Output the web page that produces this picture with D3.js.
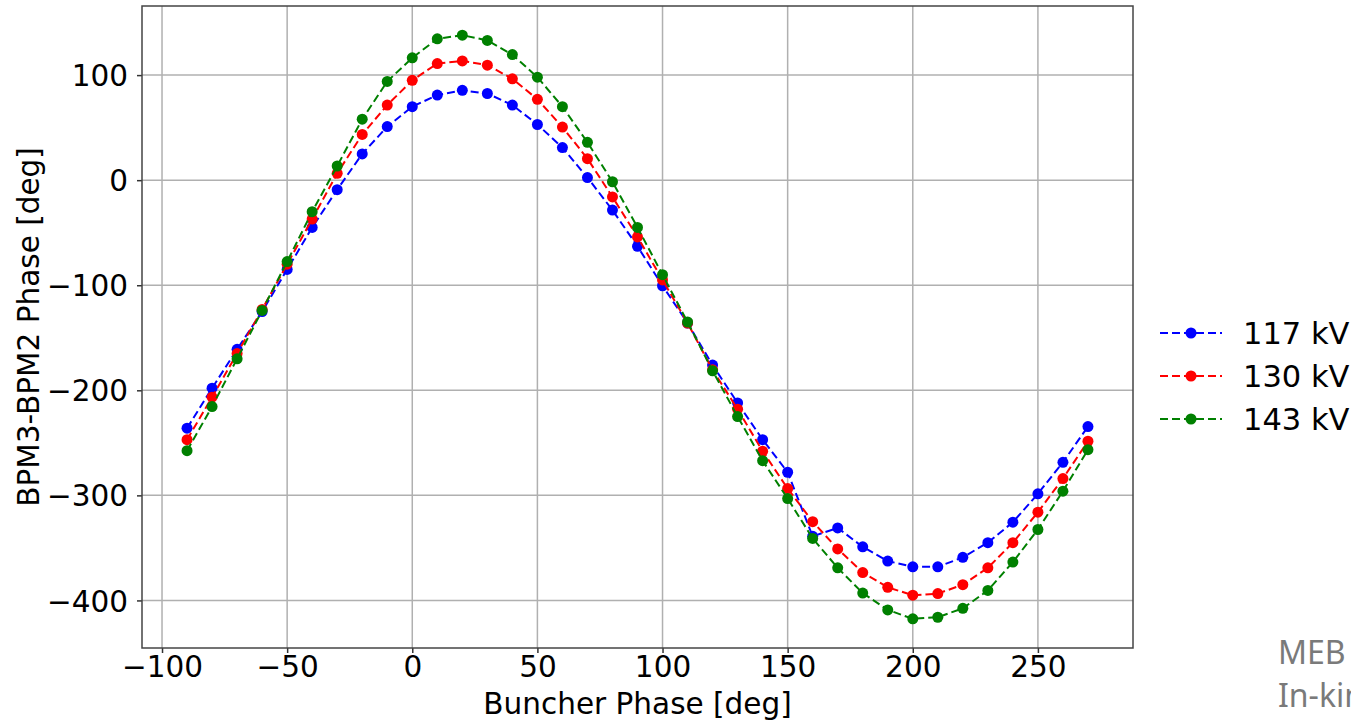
<!DOCTYPE html>
<html lang="en">
<head>
  <meta charset="utf-8" />
  <title>BPM3-BPM2 phase vs buncher phase</title>
  <style type="text/css">
    body { margin: 0; background: #fff; overflow: hidden; }
    #graphic text { font-family: "DejaVu Sans", sans-serif; fill: #000; }
    .grid line { stroke: #b0b0b0; stroke-width: 1.5; }
    .axis path { display: none; }
    .axis line { stroke: #333; stroke-width: 1.5; }
    .note { font-family: "Noto Sans", "Open Sans", sans-serif !important; fill: #7a7a7a !important; }
  </style>
</head>
<body>
  <div id="graphic"></div>

  <script src="https://cdnjs.cloudflare.com/ajax/libs/d3/7.8.5/d3.min.js"></script>
  <script>
    // buncher phase [deg]
    var phase = [-90, -80, -70, -60, -50, -40, -30, -20, -10, 0, 10, 20, 30, 40, 50, 60, 70, 80, 90,
                 100, 110, 120, 130, 140, 150, 160, 170, 180, 190, 200, 210, 220, 230, 240, 250, 260, 270];

    // BPM3-BPM2 phase [deg]
    var kv117 = [-236, -198, -161, -125, -85, -45, -9, 25, 51, 70, 81, 85.5, 82.5, 71.5, 53, 31, 2.5, -28.5, -63,
                 -100.5, -136, -176, -212, -247, -278, -339, -331, -349, -362.5, -368, -368, -359, -345, -325.5, -298.5, -268.5, -234.5];
    var kv130 = [-247, -206.5, -165, -123, -80, -37, 6.5, 43.5, 71.5, 95, 111, 113.5, 109.5, 96.5, 77, 50.5, 20.5, -16, -54,
                 -95, -136, -180.5, -218, -258, -293.5, -325, -351, -373.5, -387.5, -395, -393.5, -385, -369, -345, -316, -284, -248.5];
    var kv143 = [-257.5, -215.5, -170, -124, -77.5, -30, 13.5, 58, 94, 116.5, 134.5, 138, 133, 119.5, 98, 70, 36, -1.5, -45,
                 -90, -135, -181.5, -225, -267, -303, -341, -369, -393, -409, -417.5, -416, -407.5, -390.5, -363.5, -332.5, -296, -256.5];

    var seriesNames = ["117 kV", "130 kV", "143 kV"];
    var seriesColours = ["#0000ff", "#ff0000", "#008000"];

    var xTicks = [-100, -50, 0, 50, 100, 150, 200, 250];
    var yTicks = [-400, -300, -200, -100, 0, 100];

    var series = [kv117, kv130, kv143].map(function(vals, i) {
      return {
        name: seriesNames[i],
        colour: seriesColours[i],
        values: phase.map(function(p, j) { return { x: p, y: vals[j] }; })
      };
    });

    var W = 1351, H = 722;
    var margin = { top: 6, right: 218, bottom: 74, left: 142 };
    var width = W - margin.left - margin.right;
    var height = H - margin.top - margin.bottom;
    var fontSize = '29.5px';

    var svg = d3.select('#graphic').append('svg')
      .attr('width', W)
      .attr('height', H);

    var g = svg.append('g')
      .attr('transform', 'translate(' + margin.left + ',' + margin.top + ')');

    // matplotlib-style 5% padding around data
    var xPad = (d3.max(phase) - d3.min(phase)) * 0.05;
    var allY = kv117.concat(kv130, kv143);
    var yPad = (d3.max(allY) - d3.min(allY)) * 0.05;

    var x = d3.scaleLinear()
      .domain([d3.min(phase) - xPad, d3.max(phase) + xPad])
      .range([0, width]);

    var y = d3.scaleLinear()
      .domain([d3.min(allY) - yPad, d3.max(allY) + yPad])
      .range([height, 0]);

    // gridlines
    g.append('g')
      .attr('class', 'grid')
      .selectAll('line.v')
      .data(xTicks)
      .enter().append('line')
      .attr('x1', function(d) { return x(d); })
      .attr('x2', function(d) { return x(d); })
      .attr('y1', 0)
      .attr('y2', height);

    g.append('g')
      .attr('class', 'grid')
      .selectAll('line.h')
      .data(yTicks)
      .enter().append('line')
      .attr('y1', function(d) { return y(d); })
      .attr('y2', function(d) { return y(d); })
      .attr('x1', 0)
      .attr('x2', width);

    // axes
    var fmt = function(d) { return d < 0 ? '\u2212' + Math.abs(d) : d; };

    var xAxis = g.append('g')
      .attr('class', 'axis')
      .attr('transform', 'translate(0,' + height + ')')
      .call(d3.axisBottom(x).tickValues(xTicks).tickFormat(fmt).tickSize(5).tickPadding(3));
    xAxis.selectAll('text').style('font-size', fontSize);

    var yAxis = g.append('g')
      .attr('class', 'axis')
      .call(d3.axisLeft(y).tickValues(yTicks).tickFormat(fmt).tickSize(5).tickPadding(9));
    yAxis.selectAll('text').style('font-size', fontSize).attr('dy', '0.36em');

    // frame
    g.append('rect')
      .attr('width', width)
      .attr('height', height)
      .attr('fill', 'none')
      .attr('stroke', '#444')
      .attr('stroke-width', 1.5);

    // lines + markers
    var line = d3.line()
      .x(function(d) { return x(d.x); })
      .y(function(d) { return y(d.y); });

    var sg = g.selectAll('.series')
      .data(series)
      .enter().append('g')
      .attr('class', 'series');

    sg.append('path')
      .attr('d', function(d) { return line(d.values); })
      .attr('fill', 'none')
      .attr('stroke', function(d) { return d.colour; })
      .attr('stroke-width', 2)
      .attr('stroke-dasharray', '8,4');

    sg.selectAll('circle')
      .data(function(d) { return d.values.map(function(v) { return { x: v.x, y: v.y, colour: d.colour }; }); })
      .enter().append('circle')
      .attr('cx', function(d) { return x(d.x); })
      .attr('cy', function(d) { return y(d.y); })
      .attr('r', 5.5)
      .attr('fill', function(d) { return d.colour; });

    // axis titles
    svg.append('text')
      .attr('x', margin.left + width / 2)
      .attr('y', 714)
      .attr('text-anchor', 'middle')
      .style('font-size', fontSize)
      .text('Buncher Phase [deg]');

    svg.append('text')
      .attr('transform', 'translate(39,' + (margin.top + height / 2) + ') rotate(-90)')
      .attr('text-anchor', 'middle')
      .style('font-size', fontSize)
      .text('BPM3-BPM2 Phase [deg]');

    // legend
    var legend = svg.append('g')
      .attr('transform', 'translate(1160,333)');

    var row = legend.selectAll('g')
      .data(series)
      .enter().append('g')
      .attr('transform', function(d, i) { return 'translate(0,' + (i * 43) + ')'; });

    row.append('line')
      .attr('x1', 0).attr('x2', 62)
      .attr('stroke', function(d) { return d.colour; })
      .attr('stroke-width', 2)
      .attr('stroke-dasharray', '8,4');

    row.append('circle')
      .attr('cx', 31)
      .attr('r', 5.5)
      .attr('fill', function(d) { return d.colour; });

    row.append('text')
      .attr('x', 83)
      .attr('dy', '0.36em')
      .style('font-size', '30.5px')
      .text(function(d) { return d.name; });

    // slide text cut off at the right edge
    svg.append('text')
      .attr('class', 'note')
      .attr('x', 1278).attr('y', 664)
      .style('font-size', '32px')
      .text('MEB');
    svg.append('text')
      .attr('class', 'note')
      .attr('x', 1278).attr('y', 707)
      .style('font-size', '32px')
      .text('In-kind');
  </script>
</body>
</html>
